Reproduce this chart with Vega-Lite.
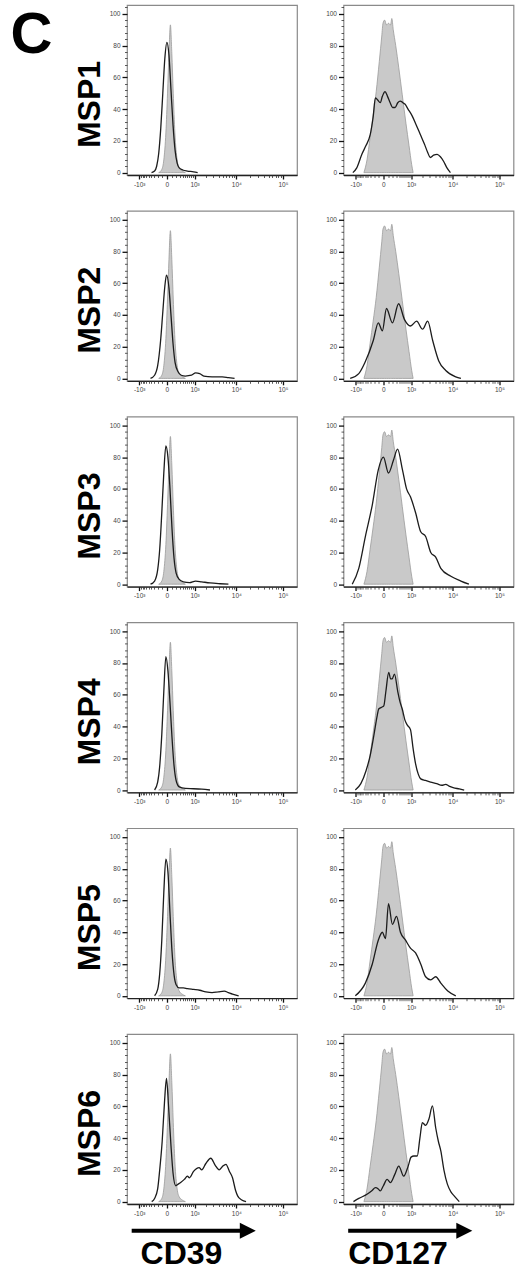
{
  "$schema": "https://vega.github.io/schema/vega-lite/v6.json",
  "background": "white",
  "padding": {"left": 10, "top": 4, "right": 0, "bottom": 0},
  "title": {"text": "C", "anchor": "start", "frame": "bounds", "fontSize": 58, "fontWeight": "bold", "font": "Liberation Sans", "color": "#000", "offset": -107, "baseline": "alphabetic", "dx": -62},
  "datasets": {
    "ctrl": [
      {"m": "CD39", "x": -172, "y": 0}, {"m": "CD39", "x": -99, "y": 2}, {"m": "CD39", "x": -57, "y": 8}, {"m": "CD39", "x": -18, "y": 25},
      {"m": "CD39", "x": 10.7, "y": 50}, {"m": "CD39", "x": 37, "y": 75}, {"m": "CD39", "x": 65, "y": 93}, {"m": "CD39", "x": 95, "y": 75},
      {"m": "CD39", "x": 127, "y": 50}, {"m": "CD39", "x": 167, "y": 25}, {"m": "CD39", "x": 227, "y": 8}, {"m": "CD39", "x": 288, "y": 3},
      {"m": "CD39", "x": 391, "y": 1}, {"m": "CD39", "x": 511, "y": 0},
      {"m": "CD127", "x": -555, "y": 0}, {"m": "CD127", "x": -429, "y": 8}, {"m": "CD127", "x": -320, "y": 22}, {"m": "CD127", "x": -227, "y": 36},
      {"m": "CD127", "x": -147, "y": 51}, {"m": "CD127", "x": -77.5, "y": 70}, {"m": "CD127", "x": -29, "y": 86}, {"m": "CD127", "x": -7, "y": 94},
      {"m": "CD127", "x": 21.6, "y": 96}, {"m": "CD127", "x": 56.6, "y": 93}, {"m": "CD127", "x": 99.4, "y": 94}, {"m": "CD127", "x": 146.7, "y": 93},
      {"m": "CD127", "x": 177.4, "y": 97}, {"m": "CD127", "x": 215.6, "y": 90}, {"m": "CD127", "x": 288, "y": 80}, {"m": "CD127", "x": 391, "y": 66},
      {"m": "CD127", "x": 528, "y": 49}, {"m": "CD127", "x": 701.5, "y": 31}, {"m": "CD127", "x": 871.6, "y": 17}, {"m": "CD127", "x": 1041, "y": 5},
      {"m": "CD127", "x": 1142, "y": 0}
    ],
    "smp": [
      {"s": "MSP1", "m": "CD39", "x": -391, "y": 0}, {"s": "MSP1", "m": "CD39", "x": -288, "y": 1}, {"s": "MSP1", "m": "CD39", "x": -227, "y": 4},
      {"s": "MSP1", "m": "CD39", "x": -172, "y": 12}, {"s": "MSP1", "m": "CD39", "x": -122, "y": 28}, {"s": "MSP1", "m": "CD39", "x": -77.5, "y": 50},
      {"s": "MSP1", "m": "CD39", "x": -36.8, "y": 72}, {"s": "MSP1", "m": "CD39", "x": 0, "y": 82}, {"s": "MSP1", "m": "CD39", "x": 36.8, "y": 74},
      {"s": "MSP1", "m": "CD39", "x": 77.5, "y": 52}, {"s": "MSP1", "m": "CD39", "x": 122, "y": 30}, {"s": "MSP1", "m": "CD39", "x": 172, "y": 14},
      {"s": "MSP1", "m": "CD39", "x": 227, "y": 6}, {"s": "MSP1", "m": "CD39", "x": 288, "y": 3}, {"s": "MSP1", "m": "CD39", "x": 429, "y": 1.5},
      {"s": "MSP1", "m": "CD39", "x": 601, "y": 1}, {"s": "MSP1", "m": "CD39", "x": 934, "y": 0.5}, {"s": "MSP1", "m": "CD39", "x": 1219, "y": 0},

      {"s": "MSP2", "m": "CD39", "x": -429, "y": 0}, {"s": "MSP2", "m": "CD39", "x": -288, "y": 2}, {"s": "MSP2", "m": "CD39", "x": -199, "y": 8},
      {"s": "MSP2", "m": "CD39", "x": -122, "y": 25}, {"s": "MSP2", "m": "CD39", "x": -77, "y": 42}, {"s": "MSP2", "m": "CD39", "x": -37, "y": 58},
      {"s": "MSP2", "m": "CD39", "x": -7, "y": 65}, {"s": "MSP2", "m": "CD39", "x": 37, "y": 57}, {"s": "MSP2", "m": "CD39", "x": 77, "y": 40},
      {"s": "MSP2", "m": "CD39", "x": 122, "y": 22}, {"s": "MSP2", "m": "CD39", "x": 172, "y": 10}, {"s": "MSP2", "m": "CD39", "x": 257, "y": 4},
      {"s": "MSP2", "m": "CD39", "x": 355, "y": 2}, {"s": "MSP2", "m": "CD39", "x": 511, "y": 1.5}, {"s": "MSP2", "m": "CD39", "x": 812, "y": 2},
      {"s": "MSP2", "m": "CD39", "x": 1069, "y": 3.5}, {"s": "MSP2", "m": "CD39", "x": 1384, "y": 3}, {"s": "MSP2", "m": "CD39", "x": 1767, "y": 1.5},
      {"s": "MSP2", "m": "CD39", "x": 2809, "y": 1}, {"s": "MSP2", "m": "CD39", "x": 4858, "y": 1}, {"s": "MSP2", "m": "CD39", "x": 6680, "y": 0.5},
      {"s": "MSP2", "m": "CD39", "x": 9140, "y": 0},

      {"s": "MSP3", "m": "CD39", "x": -429, "y": 0}, {"s": "MSP3", "m": "CD39", "x": -288, "y": 2}, {"s": "MSP3", "m": "CD39", "x": -199, "y": 9},
      {"s": "MSP3", "m": "CD39", "x": -147, "y": 22}, {"s": "MSP3", "m": "CD39", "x": -99, "y": 45}, {"s": "MSP3", "m": "CD39", "x": -57, "y": 70},
      {"s": "MSP3", "m": "CD39", "x": -18, "y": 87}, {"s": "MSP3", "m": "CD39", "x": 18, "y": 80}, {"s": "MSP3", "m": "CD39", "x": 57, "y": 60},
      {"s": "MSP3", "m": "CD39", "x": 99, "y": 35}, {"s": "MSP3", "m": "CD39", "x": 147, "y": 16}, {"s": "MSP3", "m": "CD39", "x": 199, "y": 7},
      {"s": "MSP3", "m": "CD39", "x": 288, "y": 3}, {"s": "MSP3", "m": "CD39", "x": 429, "y": 1.5}, {"s": "MSP3", "m": "CD39", "x": 702, "y": 1},
      {"s": "MSP3", "m": "CD39", "x": 1069, "y": 2}, {"s": "MSP3", "m": "CD39", "x": 1566, "y": 1.5}, {"s": "MSP3", "m": "CD39", "x": 2508, "y": 0.8},
      {"s": "MSP3", "m": "CD39", "x": 4362, "y": 0.3}, {"s": "MSP3", "m": "CD39", "x": 6680, "y": 0},

      {"s": "MSP4", "m": "CD39", "x": -288, "y": 0}, {"s": "MSP4", "m": "CD39", "x": -199, "y": 5}, {"s": "MSP4", "m": "CD39", "x": -147, "y": 15},
      {"s": "MSP4", "m": "CD39", "x": -99, "y": 35}, {"s": "MSP4", "m": "CD39", "x": -57, "y": 62}, {"s": "MSP4", "m": "CD39", "x": -18, "y": 84},
      {"s": "MSP4", "m": "CD39", "x": 18, "y": 75}, {"s": "MSP4", "m": "CD39", "x": 57, "y": 55}, {"s": "MSP4", "m": "CD39", "x": 99, "y": 33},
      {"s": "MSP4", "m": "CD39", "x": 147, "y": 15}, {"s": "MSP4", "m": "CD39", "x": 199, "y": 6}, {"s": "MSP4", "m": "CD39", "x": 288, "y": 2},
      {"s": "MSP4", "m": "CD39", "x": 511, "y": 1}, {"s": "MSP4", "m": "CD39", "x": 934, "y": 0.8}, {"s": "MSP4", "m": "CD39", "x": 1566, "y": 0.5},
      {"s": "MSP4", "m": "CD39", "x": 2508, "y": 0},

      {"s": "MSP5", "m": "CD39", "x": -288, "y": 0}, {"s": "MSP5", "m": "CD39", "x": -199, "y": 4}, {"s": "MSP5", "m": "CD39", "x": -147, "y": 14},
      {"s": "MSP5", "m": "CD39", "x": -99, "y": 35}, {"s": "MSP5", "m": "CD39", "x": -57, "y": 65}, {"s": "MSP5", "m": "CD39", "x": -18, "y": 86},
      {"s": "MSP5", "m": "CD39", "x": 18, "y": 78}, {"s": "MSP5", "m": "CD39", "x": 57, "y": 52}, {"s": "MSP5", "m": "CD39", "x": 99, "y": 28},
      {"s": "MSP5", "m": "CD39", "x": 147, "y": 13}, {"s": "MSP5", "m": "CD39", "x": 199, "y": 7}, {"s": "MSP5", "m": "CD39", "x": 288, "y": 5},
      {"s": "MSP5", "m": "CD39", "x": 429, "y": 5}, {"s": "MSP5", "m": "CD39", "x": 601, "y": 4.5}, {"s": "MSP5", "m": "CD39", "x": 934, "y": 4},
      {"s": "MSP5", "m": "CD39", "x": 1384, "y": 3.5}, {"s": "MSP5", "m": "CD39", "x": 1990, "y": 2.5}, {"s": "MSP5", "m": "CD39", "x": 2809, "y": 2},
      {"s": "MSP5", "m": "CD39", "x": 3914, "y": 2.5}, {"s": "MSP5", "m": "CD39", "x": 5406, "y": 3}, {"s": "MSP5", "m": "CD39", "x": 6680, "y": 2},
      {"s": "MSP5", "m": "CD39", "x": 8237, "y": 1}, {"s": "MSP5", "m": "CD39", "x": 11240, "y": 0},

      {"s": "MSP6", "m": "CD39", "x": -384, "y": 0}, {"s": "MSP6", "m": "CD39", "x": -288, "y": 2}, {"s": "MSP6", "m": "CD39", "x": -199, "y": 8},
      {"s": "MSP6", "m": "CD39", "x": -147, "y": 20}, {"s": "MSP6", "m": "CD39", "x": -90.5, "y": 38}, {"s": "MSP6", "m": "CD39", "x": -44.6, "y": 62},
      {"s": "MSP6", "m": "CD39", "x": -7.1, "y": 77.5}, {"s": "MSP6", "m": "CD39", "x": 29.2, "y": 60}, {"s": "MSP6", "m": "CD39", "x": 77.5, "y": 35},
      {"s": "MSP6", "m": "CD39", "x": 122, "y": 18}, {"s": "MSP6", "m": "CD39", "x": 188, "y": 10}, {"s": "MSP6", "m": "CD39", "x": 257, "y": 11},
      {"s": "MSP6", "m": "CD39", "x": 334, "y": 12}, {"s": "MSP6", "m": "CD39", "x": 469, "y": 14}, {"s": "MSP6", "m": "CD39", "x": 601, "y": 16},
      {"s": "MSP6", "m": "CD39", "x": 702, "y": 15}, {"s": "MSP6", "m": "CD39", "x": 934, "y": 19}, {"s": "MSP6", "m": "CD39", "x": 1332, "y": 21.4},
      {"s": "MSP6", "m": "CD39", "x": 1566, "y": 20}, {"s": "MSP6", "m": "CD39", "x": 1990, "y": 24}, {"s": "MSP6", "m": "CD39", "x": 2625, "y": 27.3},
      {"s": "MSP6", "m": "CD39", "x": 3320, "y": 23}, {"s": "MSP6", "m": "CD39", "x": 4132, "y": 20}, {"s": "MSP6", "m": "CD39", "x": 4858, "y": 22},
      {"s": "MSP6", "m": "CD39", "x": 5885, "y": 23.5}, {"s": "MSP6", "m": "CD39", "x": 7040, "y": 19}, {"s": "MSP6", "m": "CD39", "x": 8237, "y": 15},
      {"s": "MSP6", "m": "CD39", "x": 9626, "y": 7}, {"s": "MSP6", "m": "CD39", "x": 10675, "y": 3.6}, {"s": "MSP6", "m": "CD39", "x": 13116, "y": 1},
      {"s": "MSP6", "m": "CD39", "x": 16263, "y": 0},

      {"s": "MSP1", "m": "CD127", "x": -1203, "y": 0}, {"s": "MSP1", "m": "CD127", "x": -934, "y": 3}, {"s": "MSP1", "m": "CD127", "x": -650, "y": 11.6},
      {"s": "MSP1", "m": "CD127", "x": -469, "y": 17}, {"s": "MSP1", "m": "CD127", "x": -314, "y": 24}, {"s": "MSP1", "m": "CD127", "x": -227, "y": 35},
      {"s": "MSP1", "m": "CD127", "x": -167, "y": 47}, {"s": "MSP1", "m": "CD127", "x": -122, "y": 46}, {"s": "MSP1", "m": "CD127", "x": -57, "y": 44},
      {"s": "MSP1", "m": "CD127", "x": -18, "y": 48}, {"s": "MSP1", "m": "CD127", "x": 29, "y": 51}, {"s": "MSP1", "m": "CD127", "x": 77.5, "y": 48},
      {"s": "MSP1", "m": "CD127", "x": 137, "y": 44}, {"s": "MSP1", "m": "CD127", "x": 199, "y": 41}, {"s": "MSP1", "m": "CD127", "x": 269, "y": 41},
      {"s": "MSP1", "m": "CD127", "x": 355, "y": 44}, {"s": "MSP1", "m": "CD127", "x": 445, "y": 45}, {"s": "MSP1", "m": "CD127", "x": 555, "y": 44},
      {"s": "MSP1", "m": "CD127", "x": 660, "y": 43}, {"s": "MSP1", "m": "CD127", "x": 812, "y": 40}, {"s": "MSP1", "m": "CD127", "x": 1055, "y": 36},
      {"s": "MSP1", "m": "CD127", "x": 1384, "y": 30}, {"s": "MSP1", "m": "CD127", "x": 1767, "y": 24}, {"s": "MSP1", "m": "CD127", "x": 2236, "y": 18},
      {"s": "MSP1", "m": "CD127", "x": 2655, "y": 13}, {"s": "MSP1", "m": "CD127", "x": 3106, "y": 9.5}, {"s": "MSP1", "m": "CD127", "x": 3706, "y": 11},
      {"s": "MSP1", "m": "CD127", "x": 4458, "y": 11.5}, {"s": "MSP1", "m": "CD127", "x": 5292, "y": 10}, {"s": "MSP1", "m": "CD127", "x": 6271, "y": 7},
      {"s": "MSP1", "m": "CD127", "x": 7419, "y": 3}, {"s": "MSP1", "m": "CD127", "x": 8859, "y": 0},

      {"s": "MSP2", "m": "CD127", "x": -1419, "y": 0}, {"s": "MSP2", "m": "CD127", "x": -812, "y": 3}, {"s": "MSP2", "m": "CD127", "x": -511, "y": 10},
      {"s": "MSP2", "m": "CD127", "x": -221, "y": 24}, {"s": "MSP2", "m": "CD127", "x": -99, "y": 35}, {"s": "MSP2", "m": "CD127", "x": -18, "y": 30},
      {"s": "MSP2", "m": "CD127", "x": 57, "y": 44}, {"s": "MSP2", "m": "CD127", "x": 193, "y": 35}, {"s": "MSP2", "m": "CD127", "x": 384, "y": 47},
      {"s": "MSP2", "m": "CD127", "x": 630, "y": 37}, {"s": "MSP2", "m": "CD127", "x": 960, "y": 33}, {"s": "MSP2", "m": "CD127", "x": 1419, "y": 36},
      {"s": "MSP2", "m": "CD127", "x": 2014, "y": 31}, {"s": "MSP2", "m": "CD127", "x": 2685, "y": 36}, {"s": "MSP2", "m": "CD127", "x": 3508, "y": 24},
      {"s": "MSP2", "m": "CD127", "x": 4858, "y": 11}, {"s": "MSP2", "m": "CD127", "x": 6967, "y": 5}, {"s": "MSP2", "m": "CD127", "x": 11593, "y": 1},
      {"s": "MSP2", "m": "CD127", "x": 14986, "y": 0},

      {"s": "MSP3", "m": "CD127", "x": -1250, "y": 0}, {"s": "MSP3", "m": "CD127", "x": -812, "y": 10}, {"s": "MSP3", "m": "CD127", "x": -494, "y": 30},
      {"s": "MSP3", "m": "CD127", "x": -251, "y": 50}, {"s": "MSP3", "m": "CD127", "x": -99, "y": 72}, {"s": "MSP3", "m": "CD127", "x": 0, "y": 80},
      {"s": "MSP3", "m": "CD127", "x": 99, "y": 70}, {"s": "MSP3", "m": "CD127", "x": 221, "y": 78}, {"s": "MSP3", "m": "CD127", "x": 348, "y": 85},
      {"s": "MSP3", "m": "CD127", "x": 537, "y": 72}, {"s": "MSP3", "m": "CD127", "x": 733, "y": 60}, {"s": "MSP3", "m": "CD127", "x": 960, "y": 55},
      {"s": "MSP3", "m": "CD127", "x": 1332, "y": 45}, {"s": "MSP3", "m": "CD127", "x": 1810, "y": 33}, {"s": "MSP3", "m": "CD127", "x": 2396, "y": 30},
      {"s": "MSP3", "m": "CD127", "x": 3176, "y": 20}, {"s": "MSP3", "m": "CD127", "x": 4132, "y": 17}, {"s": "MSP3", "m": "CD127", "x": 5406, "y": 10},
      {"s": "MSP3", "m": "CD127", "x": 9045, "y": 5}, {"s": "MSP3", "m": "CD127", "x": 14986, "y": 2}, {"s": "MSP3", "m": "CD127", "x": 22300, "y": 0},

      {"s": "MSP4", "m": "CD127", "x": -1027, "y": 0}, {"s": "MSP4", "m": "CD127", "x": -702, "y": 4}, {"s": "MSP4", "m": "CD127", "x": -469, "y": 12},
      {"s": "MSP4", "m": "CD127", "x": -314, "y": 22}, {"s": "MSP4", "m": "CD127", "x": -210, "y": 34}, {"s": "MSP4", "m": "CD127", "x": -122, "y": 47},
      {"s": "MSP4", "m": "CD127", "x": -90.5, "y": 51}, {"s": "MSP4", "m": "CD127", "x": -37, "y": 52}, {"s": "MSP4", "m": "CD127", "x": 7, "y": 53},
      {"s": "MSP4", "m": "CD127", "x": 44.6, "y": 62}, {"s": "MSP4", "m": "CD127", "x": 104, "y": 74}, {"s": "MSP4", "m": "CD127", "x": 147, "y": 70},
      {"s": "MSP4", "m": "CD127", "x": 188, "y": 70}, {"s": "MSP4", "m": "CD127", "x": 251, "y": 73}, {"s": "MSP4", "m": "CD127", "x": 355, "y": 62},
      {"s": "MSP4", "m": "CD127", "x": 445, "y": 55}, {"s": "MSP4", "m": "CD127", "x": 528, "y": 51}, {"s": "MSP4", "m": "CD127", "x": 650, "y": 44},
      {"s": "MSP4", "m": "CD127", "x": 766, "y": 41}, {"s": "MSP4", "m": "CD127", "x": 960, "y": 38}, {"s": "MSP4", "m": "CD127", "x": 1142, "y": 26},
      {"s": "MSP4", "m": "CD127", "x": 1332, "y": 16.5}, {"s": "MSP4", "m": "CD127", "x": 1566, "y": 10}, {"s": "MSP4", "m": "CD127", "x": 1810, "y": 7},
      {"s": "MSP4", "m": "CD127", "x": 2369, "y": 6}, {"s": "MSP4", "m": "CD127", "x": 3141, "y": 5}, {"s": "MSP4", "m": "CD127", "x": 4362, "y": 4},
      {"s": "MSP4", "m": "CD127", "x": 5701, "y": 3}, {"s": "MSP4", "m": "CD127", "x": 6967, "y": 3.6}, {"s": "MSP4", "m": "CD127", "x": 8237, "y": 2.5},
      {"s": "MSP4", "m": "CD127", "x": 10137, "y": 1.5}, {"s": "MSP4", "m": "CD127", "x": 13806, "y": 0.7}, {"s": "MSP4", "m": "CD127", "x": 17647, "y": 0},

      {"s": "MSP5", "m": "CD127", "x": -1027, "y": 0}, {"s": "MSP5", "m": "CD127", "x": -494, "y": 8}, {"s": "MSP5", "m": "CD127", "x": -251, "y": 20},
      {"s": "MSP5", "m": "CD127", "x": -99, "y": 35}, {"s": "MSP5", "m": "CD127", "x": -18, "y": 40}, {"s": "MSP5", "m": "CD127", "x": 37, "y": 36},
      {"s": "MSP5", "m": "CD127", "x": 99, "y": 58}, {"s": "MSP5", "m": "CD127", "x": 193, "y": 45}, {"s": "MSP5", "m": "CD127", "x": 314, "y": 50},
      {"s": "MSP5", "m": "CD127", "x": 453, "y": 40}, {"s": "MSP5", "m": "CD127", "x": 681, "y": 35}, {"s": "MSP5", "m": "CD127", "x": 960, "y": 30},
      {"s": "MSP5", "m": "CD127", "x": 1332, "y": 27}, {"s": "MSP5", "m": "CD127", "x": 1810, "y": 20}, {"s": "MSP5", "m": "CD127", "x": 2396, "y": 12},
      {"s": "MSP5", "m": "CD127", "x": 3176, "y": 10}, {"s": "MSP5", "m": "CD127", "x": 4132, "y": 12}, {"s": "MSP5", "m": "CD127", "x": 5406, "y": 8},
      {"s": "MSP5", "m": "CD127", "x": 7736, "y": 3}, {"s": "MSP5", "m": "CD127", "x": 11593, "y": 0},

      {"s": "MSP6", "m": "CD127", "x": -1157, "y": 0}, {"s": "MSP6", "m": "CD127", "x": -812, "y": 2}, {"s": "MSP6", "m": "CD127", "x": -429, "y": 4.6},
      {"s": "MSP6", "m": "CD127", "x": -257, "y": 7}, {"s": "MSP6", "m": "CD127", "x": -167, "y": 8.8}, {"s": "MSP6", "m": "CD127", "x": -99, "y": 8},
      {"s": "MSP6", "m": "CD127", "x": -57, "y": 6.7}, {"s": "MSP6", "m": "CD127", "x": 0, "y": 10}, {"s": "MSP6", "m": "CD127", "x": 69, "y": 14},
      {"s": "MSP6", "m": "CD127", "x": 142, "y": 12}, {"s": "MSP6", "m": "CD127", "x": 257, "y": 17}, {"s": "MSP6", "m": "CD127", "x": 391, "y": 22.4},
      {"s": "MSP6", "m": "CD127", "x": 592, "y": 16}, {"s": "MSP6", "m": "CD127", "x": 812, "y": 22}, {"s": "MSP6", "m": "CD127", "x": 1000, "y": 28},
      {"s": "MSP6", "m": "CD127", "x": 1203, "y": 28.7}, {"s": "MSP6", "m": "CD127", "x": 1472, "y": 28.7}, {"s": "MSP6", "m": "CD127", "x": 1725, "y": 40},
      {"s": "MSP6", "m": "CD127", "x": 1990, "y": 49.7}, {"s": "MSP6", "m": "CD127", "x": 2396, "y": 48}, {"s": "MSP6", "m": "CD127", "x": 2873, "y": 52},
      {"s": "MSP6", "m": "CD127", "x": 3470, "y": 60.2}, {"s": "MSP6", "m": "CD127", "x": 4132, "y": 46.5}, {"s": "MSP6", "m": "CD127", "x": 4755, "y": 38},
      {"s": "MSP6", "m": "CD127", "x": 5406, "y": 31.9}, {"s": "MSP6", "m": "CD127", "x": 6337, "y": 20}, {"s": "MSP6", "m": "CD127", "x": 7576, "y": 11},
      {"s": "MSP6", "m": "CD127", "x": 9140, "y": 6}, {"s": "MSP6", "m": "CD127", "x": 10675, "y": 3.6}, {"s": "MSP6", "m": "CD127", "x": 13806, "y": 0}
    ]
  },
  "spacing": 20.8,
  "vconcat": [
    {"spacing": 26.5, "hconcat": [
      {"width": 170, "height": 170, "resolve": {"axis": {"x": "independent", "y": "independent"}}, "layer": [
        {"data": {"name": "ctrl"}, "transform": [{"filter": "datum.m == 'CD39'"}], "mark": {"type": "area", "color": "#c9c9c9", "stroke": "#9a9a9a", "strokeWidth": 0.8, "interpolate": "monotone"},
         "encoding": {"x": {"field": "x", "type": "quantitative", "scale": {"type": "symlog", "constant": 350, "domain": [-2100, 199000], "nice": false, "zero": false}, "axis": {"orient": "bottom", "values": [-1000, 0, 1000, 10000, 100000], "labelExpr": "datum.value === 0 ? '0' : datum.value === -1000 ? '-10³' : datum.value === 1000 ? '10³' : datum.value === 10000 ? '10⁴' : '10⁵'", "title": null, "tickSize": 4, "tickWidth": 1.3, "tickColor": "#111", "domainColor": "#222", "domainWidth": 1.3, "labelFontSize": 6.5, "labelColor": "#444", "labelPadding": 2, "labelFlush": false, "labelOverlap": false, "grid": false}},
                      "y": {"field": "y", "type": "quantitative", "scale": {"domain": [-1.5, 105.5], "nice": false, "zero": false}, "axis": {"orient": "left", "values": [0, 20, 40, 60, 80, 100], "title": "MSP1", "titleFontSize": 32, "titleFontWeight": "bold", "titleColor": "#000", "titleX": -28, "titleY": 99, "titleAngle": 270, "titleAlign": "center", "titleBaseline": "alphabetic", "tickSize": 5, "tickWidth": 1.3, "tickColor": "#111", "domain": false, "labelFontSize": 6.5, "labelColor": "#444", "labelPadding": 2, "grid": false}}}},
        {"data": {"name": "smp"}, "transform": [{"filter": "datum.m == 'CD39' && datum.s == 'MSP1'"}], "mark": {"type": "line", "color": "#1c1c1c", "strokeWidth": 1.3, "interpolate": "monotone"},
         "encoding": {"x": {"field": "x", "type": "quantitative", "axis": {"orient": "bottom", "values": [-900, -800, -700, -600, -500, -400, -300, -200, -100, 100, 200, 300, 400, 500, 600, 700, 800, 900, 2000, 3000, 4000, 5000, 6000, 7000, 8000, 9000, 20000, 30000, 40000, 50000, 60000, 70000, 80000, 90000], "labels": false, "title": null, "tickSize": 2.5, "tickWidth": 0.8, "tickColor": "#333", "domain": false, "grid": false}},
                      "y": {"field": "y", "type": "quantitative", "axis": {"orient": "left", "values": [4, 8, 12, 16, 24, 28, 32, 36, 44, 48, 52, 56, 64, 68, 72, 76, 84, 88, 92, 96, 104], "labels": false, "title": null, "tickSize": 2.5, "tickWidth": 0.8, "tickColor": "#333", "domain": false, "grid": false}}}}
      ]},
      {"width": 170, "height": 170, "resolve": {"axis": {"x": "independent", "y": "independent"}}, "layer": [
        {"data": {"name": "ctrl"}, "transform": [{"filter": "datum.m == 'CD127'"}], "mark": {"type": "area", "color": "#c9c9c9", "stroke": "#9a9a9a", "strokeWidth": 0.8, "interpolate": "monotone"},
         "encoding": {"x": {"field": "x", "type": "quantitative", "scale": {"type": "symlog", "constant": 350, "domain": [-2100, 199000], "nice": false, "zero": false}, "axis": {"orient": "bottom", "values": [-1000, 0, 1000, 10000, 100000], "labelExpr": "datum.value === 0 ? '0' : datum.value === -1000 ? '-10³' : datum.value === 1000 ? '10³' : datum.value === 10000 ? '10⁴' : '10⁵'", "title": null, "tickSize": 4, "tickWidth": 1.3, "tickColor": "#111", "domainColor": "#222", "domainWidth": 1.3, "labelFontSize": 6.5, "labelColor": "#444", "labelPadding": 2, "labelFlush": false, "labelOverlap": false, "grid": false}},
                      "y": {"field": "y", "type": "quantitative", "scale": {"domain": [-1.5, 105.5], "nice": false, "zero": false}, "axis": {"orient": "left", "values": [0, 20, 40, 60, 80, 100], "title": null, "tickSize": 5, "tickWidth": 1.3, "tickColor": "#111", "domain": false, "labelFontSize": 6.5, "labelColor": "#444", "labelPadding": 2, "grid": false}}}},
        {"data": {"name": "smp"}, "transform": [{"filter": "datum.m == 'CD127' && datum.s == 'MSP1'"}], "mark": {"type": "line", "color": "#1c1c1c", "strokeWidth": 1.3, "interpolate": "monotone"},
         "encoding": {"x": {"field": "x", "type": "quantitative", "axis": {"orient": "bottom", "values": [-900, -800, -700, -600, -500, -400, -300, -200, -100, 100, 200, 300, 400, 500, 600, 700, 800, 900, 2000, 3000, 4000, 5000, 6000, 7000, 8000, 9000, 20000, 30000, 40000, 50000, 60000, 70000, 80000, 90000], "labels": false, "title": null, "tickSize": 2.5, "tickWidth": 0.8, "tickColor": "#333", "domain": false, "grid": false}},
                      "y": {"field": "y", "type": "quantitative", "axis": {"orient": "left", "values": [4, 8, 12, 16, 24, 28, 32, 36, 44, 48, 52, 56, 64, 68, 72, 76, 84, 88, 92, 96, 104], "labels": false, "title": null, "tickSize": 2.5, "tickWidth": 0.8, "tickColor": "#333", "domain": false, "grid": false}}}}
      ]}
    ]},
    {"spacing": 26.5, "hconcat": [
      {"width": 170, "height": 170, "resolve": {"axis": {"x": "independent", "y": "independent"}}, "layer": [
        {"data": {"name": "ctrl"}, "transform": [{"filter": "datum.m == 'CD39'"}], "mark": {"type": "area", "color": "#c9c9c9", "stroke": "#9a9a9a", "strokeWidth": 0.8, "interpolate": "monotone"},
         "encoding": {"x": {"field": "x", "type": "quantitative", "scale": {"type": "symlog", "constant": 350, "domain": [-2100, 199000], "nice": false, "zero": false}, "axis": {"orient": "bottom", "values": [-1000, 0, 1000, 10000, 100000], "labelExpr": "datum.value === 0 ? '0' : datum.value === -1000 ? '-10³' : datum.value === 1000 ? '10³' : datum.value === 10000 ? '10⁴' : '10⁵'", "title": null, "tickSize": 4, "tickWidth": 1.3, "tickColor": "#111", "domainColor": "#222", "domainWidth": 1.3, "labelFontSize": 6.5, "labelColor": "#444", "labelPadding": 2, "labelFlush": false, "labelOverlap": false, "grid": false}},
                      "y": {"field": "y", "type": "quantitative", "scale": {"domain": [-1.5, 105.5], "nice": false, "zero": false}, "axis": {"orient": "left", "values": [0, 20, 40, 60, 80, 100], "title": "MSP2", "titleFontSize": 32, "titleFontWeight": "bold", "titleColor": "#000", "titleX": -28, "titleY": 99, "titleAngle": 270, "titleAlign": "center", "titleBaseline": "alphabetic", "tickSize": 5, "tickWidth": 1.3, "tickColor": "#111", "domain": false, "labelFontSize": 6.5, "labelColor": "#444", "labelPadding": 2, "grid": false}}}},
        {"data": {"name": "smp"}, "transform": [{"filter": "datum.m == 'CD39' && datum.s == 'MSP2'"}], "mark": {"type": "line", "color": "#1c1c1c", "strokeWidth": 1.3, "interpolate": "monotone"},
         "encoding": {"x": {"field": "x", "type": "quantitative", "axis": {"orient": "bottom", "values": [-900, -800, -700, -600, -500, -400, -300, -200, -100, 100, 200, 300, 400, 500, 600, 700, 800, 900, 2000, 3000, 4000, 5000, 6000, 7000, 8000, 9000, 20000, 30000, 40000, 50000, 60000, 70000, 80000, 90000], "labels": false, "title": null, "tickSize": 2.5, "tickWidth": 0.8, "tickColor": "#333", "domain": false, "grid": false}},
                      "y": {"field": "y", "type": "quantitative", "axis": {"orient": "left", "values": [4, 8, 12, 16, 24, 28, 32, 36, 44, 48, 52, 56, 64, 68, 72, 76, 84, 88, 92, 96, 104], "labels": false, "title": null, "tickSize": 2.5, "tickWidth": 0.8, "tickColor": "#333", "domain": false, "grid": false}}}}
      ]},
      {"width": 170, "height": 170, "resolve": {"axis": {"x": "independent", "y": "independent"}}, "layer": [
        {"data": {"name": "ctrl"}, "transform": [{"filter": "datum.m == 'CD127'"}], "mark": {"type": "area", "color": "#c9c9c9", "stroke": "#9a9a9a", "strokeWidth": 0.8, "interpolate": "monotone"},
         "encoding": {"x": {"field": "x", "type": "quantitative", "scale": {"type": "symlog", "constant": 350, "domain": [-2100, 199000], "nice": false, "zero": false}, "axis": {"orient": "bottom", "values": [-1000, 0, 1000, 10000, 100000], "labelExpr": "datum.value === 0 ? '0' : datum.value === -1000 ? '-10³' : datum.value === 1000 ? '10³' : datum.value === 10000 ? '10⁴' : '10⁵'", "title": null, "tickSize": 4, "tickWidth": 1.3, "tickColor": "#111", "domainColor": "#222", "domainWidth": 1.3, "labelFontSize": 6.5, "labelColor": "#444", "labelPadding": 2, "labelFlush": false, "labelOverlap": false, "grid": false}},
                      "y": {"field": "y", "type": "quantitative", "scale": {"domain": [-1.5, 105.5], "nice": false, "zero": false}, "axis": {"orient": "left", "values": [0, 20, 40, 60, 80, 100], "title": null, "tickSize": 5, "tickWidth": 1.3, "tickColor": "#111", "domain": false, "labelFontSize": 6.5, "labelColor": "#444", "labelPadding": 2, "grid": false}}}},
        {"data": {"name": "smp"}, "transform": [{"filter": "datum.m == 'CD127' && datum.s == 'MSP2'"}], "mark": {"type": "line", "color": "#1c1c1c", "strokeWidth": 1.3, "interpolate": "monotone"},
         "encoding": {"x": {"field": "x", "type": "quantitative", "axis": {"orient": "bottom", "values": [-900, -800, -700, -600, -500, -400, -300, -200, -100, 100, 200, 300, 400, 500, 600, 700, 800, 900, 2000, 3000, 4000, 5000, 6000, 7000, 8000, 9000, 20000, 30000, 40000, 50000, 60000, 70000, 80000, 90000], "labels": false, "title": null, "tickSize": 2.5, "tickWidth": 0.8, "tickColor": "#333", "domain": false, "grid": false}},
                      "y": {"field": "y", "type": "quantitative", "axis": {"orient": "left", "values": [4, 8, 12, 16, 24, 28, 32, 36, 44, 48, 52, 56, 64, 68, 72, 76, 84, 88, 92, 96, 104], "labels": false, "title": null, "tickSize": 2.5, "tickWidth": 0.8, "tickColor": "#333", "domain": false, "grid": false}}}}
      ]}
    ]},
    {"spacing": 26.5, "hconcat": [
      {"width": 170, "height": 170, "resolve": {"axis": {"x": "independent", "y": "independent"}}, "layer": [
        {"data": {"name": "ctrl"}, "transform": [{"filter": "datum.m == 'CD39'"}], "mark": {"type": "area", "color": "#c9c9c9", "stroke": "#9a9a9a", "strokeWidth": 0.8, "interpolate": "monotone"},
         "encoding": {"x": {"field": "x", "type": "quantitative", "scale": {"type": "symlog", "constant": 350, "domain": [-2100, 199000], "nice": false, "zero": false}, "axis": {"orient": "bottom", "values": [-1000, 0, 1000, 10000, 100000], "labelExpr": "datum.value === 0 ? '0' : datum.value === -1000 ? '-10³' : datum.value === 1000 ? '10³' : datum.value === 10000 ? '10⁴' : '10⁵'", "title": null, "tickSize": 4, "tickWidth": 1.3, "tickColor": "#111", "domainColor": "#222", "domainWidth": 1.3, "labelFontSize": 6.5, "labelColor": "#444", "labelPadding": 2, "labelFlush": false, "labelOverlap": false, "grid": false}},
                      "y": {"field": "y", "type": "quantitative", "scale": {"domain": [-1.5, 105.5], "nice": false, "zero": false}, "axis": {"orient": "left", "values": [0, 20, 40, 60, 80, 100], "title": "MSP3", "titleFontSize": 32, "titleFontWeight": "bold", "titleColor": "#000", "titleX": -28, "titleY": 99, "titleAngle": 270, "titleAlign": "center", "titleBaseline": "alphabetic", "tickSize": 5, "tickWidth": 1.3, "tickColor": "#111", "domain": false, "labelFontSize": 6.5, "labelColor": "#444", "labelPadding": 2, "grid": false}}}},
        {"data": {"name": "smp"}, "transform": [{"filter": "datum.m == 'CD39' && datum.s == 'MSP3'"}], "mark": {"type": "line", "color": "#1c1c1c", "strokeWidth": 1.3, "interpolate": "monotone"},
         "encoding": {"x": {"field": "x", "type": "quantitative", "axis": {"orient": "bottom", "values": [-900, -800, -700, -600, -500, -400, -300, -200, -100, 100, 200, 300, 400, 500, 600, 700, 800, 900, 2000, 3000, 4000, 5000, 6000, 7000, 8000, 9000, 20000, 30000, 40000, 50000, 60000, 70000, 80000, 90000], "labels": false, "title": null, "tickSize": 2.5, "tickWidth": 0.8, "tickColor": "#333", "domain": false, "grid": false}},
                      "y": {"field": "y", "type": "quantitative", "axis": {"orient": "left", "values": [4, 8, 12, 16, 24, 28, 32, 36, 44, 48, 52, 56, 64, 68, 72, 76, 84, 88, 92, 96, 104], "labels": false, "title": null, "tickSize": 2.5, "tickWidth": 0.8, "tickColor": "#333", "domain": false, "grid": false}}}}
      ]},
      {"width": 170, "height": 170, "resolve": {"axis": {"x": "independent", "y": "independent"}}, "layer": [
        {"data": {"name": "ctrl"}, "transform": [{"filter": "datum.m == 'CD127'"}], "mark": {"type": "area", "color": "#c9c9c9", "stroke": "#9a9a9a", "strokeWidth": 0.8, "interpolate": "monotone"},
         "encoding": {"x": {"field": "x", "type": "quantitative", "scale": {"type": "symlog", "constant": 350, "domain": [-2100, 199000], "nice": false, "zero": false}, "axis": {"orient": "bottom", "values": [-1000, 0, 1000, 10000, 100000], "labelExpr": "datum.value === 0 ? '0' : datum.value === -1000 ? '-10³' : datum.value === 1000 ? '10³' : datum.value === 10000 ? '10⁴' : '10⁵'", "title": null, "tickSize": 4, "tickWidth": 1.3, "tickColor": "#111", "domainColor": "#222", "domainWidth": 1.3, "labelFontSize": 6.5, "labelColor": "#444", "labelPadding": 2, "labelFlush": false, "labelOverlap": false, "grid": false}},
                      "y": {"field": "y", "type": "quantitative", "scale": {"domain": [-1.5, 105.5], "nice": false, "zero": false}, "axis": {"orient": "left", "values": [0, 20, 40, 60, 80, 100], "title": null, "tickSize": 5, "tickWidth": 1.3, "tickColor": "#111", "domain": false, "labelFontSize": 6.5, "labelColor": "#444", "labelPadding": 2, "grid": false}}}},
        {"data": {"name": "smp"}, "transform": [{"filter": "datum.m == 'CD127' && datum.s == 'MSP3'"}], "mark": {"type": "line", "color": "#1c1c1c", "strokeWidth": 1.3, "interpolate": "monotone"},
         "encoding": {"x": {"field": "x", "type": "quantitative", "axis": {"orient": "bottom", "values": [-900, -800, -700, -600, -500, -400, -300, -200, -100, 100, 200, 300, 400, 500, 600, 700, 800, 900, 2000, 3000, 4000, 5000, 6000, 7000, 8000, 9000, 20000, 30000, 40000, 50000, 60000, 70000, 80000, 90000], "labels": false, "title": null, "tickSize": 2.5, "tickWidth": 0.8, "tickColor": "#333", "domain": false, "grid": false}},
                      "y": {"field": "y", "type": "quantitative", "axis": {"orient": "left", "values": [4, 8, 12, 16, 24, 28, 32, 36, 44, 48, 52, 56, 64, 68, 72, 76, 84, 88, 92, 96, 104], "labels": false, "title": null, "tickSize": 2.5, "tickWidth": 0.8, "tickColor": "#333", "domain": false, "grid": false}}}}
      ]}
    ]},
    {"spacing": 26.5, "hconcat": [
      {"width": 170, "height": 170, "resolve": {"axis": {"x": "independent", "y": "independent"}}, "layer": [
        {"data": {"name": "ctrl"}, "transform": [{"filter": "datum.m == 'CD39'"}], "mark": {"type": "area", "color": "#c9c9c9", "stroke": "#9a9a9a", "strokeWidth": 0.8, "interpolate": "monotone"},
         "encoding": {"x": {"field": "x", "type": "quantitative", "scale": {"type": "symlog", "constant": 350, "domain": [-2100, 199000], "nice": false, "zero": false}, "axis": {"orient": "bottom", "values": [-1000, 0, 1000, 10000, 100000], "labelExpr": "datum.value === 0 ? '0' : datum.value === -1000 ? '-10³' : datum.value === 1000 ? '10³' : datum.value === 10000 ? '10⁴' : '10⁵'", "title": null, "tickSize": 4, "tickWidth": 1.3, "tickColor": "#111", "domainColor": "#222", "domainWidth": 1.3, "labelFontSize": 6.5, "labelColor": "#444", "labelPadding": 2, "labelFlush": false, "labelOverlap": false, "grid": false}},
                      "y": {"field": "y", "type": "quantitative", "scale": {"domain": [-1.5, 105.5], "nice": false, "zero": false}, "axis": {"orient": "left", "values": [0, 20, 40, 60, 80, 100], "title": "MSP4", "titleFontSize": 32, "titleFontWeight": "bold", "titleColor": "#000", "titleX": -28, "titleY": 99, "titleAngle": 270, "titleAlign": "center", "titleBaseline": "alphabetic", "tickSize": 5, "tickWidth": 1.3, "tickColor": "#111", "domain": false, "labelFontSize": 6.5, "labelColor": "#444", "labelPadding": 2, "grid": false}}}},
        {"data": {"name": "smp"}, "transform": [{"filter": "datum.m == 'CD39' && datum.s == 'MSP4'"}], "mark": {"type": "line", "color": "#1c1c1c", "strokeWidth": 1.3, "interpolate": "monotone"},
         "encoding": {"x": {"field": "x", "type": "quantitative", "axis": {"orient": "bottom", "values": [-900, -800, -700, -600, -500, -400, -300, -200, -100, 100, 200, 300, 400, 500, 600, 700, 800, 900, 2000, 3000, 4000, 5000, 6000, 7000, 8000, 9000, 20000, 30000, 40000, 50000, 60000, 70000, 80000, 90000], "labels": false, "title": null, "tickSize": 2.5, "tickWidth": 0.8, "tickColor": "#333", "domain": false, "grid": false}},
                      "y": {"field": "y", "type": "quantitative", "axis": {"orient": "left", "values": [4, 8, 12, 16, 24, 28, 32, 36, 44, 48, 52, 56, 64, 68, 72, 76, 84, 88, 92, 96, 104], "labels": false, "title": null, "tickSize": 2.5, "tickWidth": 0.8, "tickColor": "#333", "domain": false, "grid": false}}}}
      ]},
      {"width": 170, "height": 170, "resolve": {"axis": {"x": "independent", "y": "independent"}}, "layer": [
        {"data": {"name": "ctrl"}, "transform": [{"filter": "datum.m == 'CD127'"}], "mark": {"type": "area", "color": "#c9c9c9", "stroke": "#9a9a9a", "strokeWidth": 0.8, "interpolate": "monotone"},
         "encoding": {"x": {"field": "x", "type": "quantitative", "scale": {"type": "symlog", "constant": 350, "domain": [-2100, 199000], "nice": false, "zero": false}, "axis": {"orient": "bottom", "values": [-1000, 0, 1000, 10000, 100000], "labelExpr": "datum.value === 0 ? '0' : datum.value === -1000 ? '-10³' : datum.value === 1000 ? '10³' : datum.value === 10000 ? '10⁴' : '10⁵'", "title": null, "tickSize": 4, "tickWidth": 1.3, "tickColor": "#111", "domainColor": "#222", "domainWidth": 1.3, "labelFontSize": 6.5, "labelColor": "#444", "labelPadding": 2, "labelFlush": false, "labelOverlap": false, "grid": false}},
                      "y": {"field": "y", "type": "quantitative", "scale": {"domain": [-1.5, 105.5], "nice": false, "zero": false}, "axis": {"orient": "left", "values": [0, 20, 40, 60, 80, 100], "title": null, "tickSize": 5, "tickWidth": 1.3, "tickColor": "#111", "domain": false, "labelFontSize": 6.5, "labelColor": "#444", "labelPadding": 2, "grid": false}}}},
        {"data": {"name": "smp"}, "transform": [{"filter": "datum.m == 'CD127' && datum.s == 'MSP4'"}], "mark": {"type": "line", "color": "#1c1c1c", "strokeWidth": 1.3, "interpolate": "monotone"},
         "encoding": {"x": {"field": "x", "type": "quantitative", "axis": {"orient": "bottom", "values": [-900, -800, -700, -600, -500, -400, -300, -200, -100, 100, 200, 300, 400, 500, 600, 700, 800, 900, 2000, 3000, 4000, 5000, 6000, 7000, 8000, 9000, 20000, 30000, 40000, 50000, 60000, 70000, 80000, 90000], "labels": false, "title": null, "tickSize": 2.5, "tickWidth": 0.8, "tickColor": "#333", "domain": false, "grid": false}},
                      "y": {"field": "y", "type": "quantitative", "axis": {"orient": "left", "values": [4, 8, 12, 16, 24, 28, 32, 36, 44, 48, 52, 56, 64, 68, 72, 76, 84, 88, 92, 96, 104], "labels": false, "title": null, "tickSize": 2.5, "tickWidth": 0.8, "tickColor": "#333", "domain": false, "grid": false}}}}
      ]}
    ]},
    {"spacing": 26.5, "hconcat": [
      {"width": 170, "height": 170, "resolve": {"axis": {"x": "independent", "y": "independent"}}, "layer": [
        {"data": {"name": "ctrl"}, "transform": [{"filter": "datum.m == 'CD39'"}], "mark": {"type": "area", "color": "#c9c9c9", "stroke": "#9a9a9a", "strokeWidth": 0.8, "interpolate": "monotone"},
         "encoding": {"x": {"field": "x", "type": "quantitative", "scale": {"type": "symlog", "constant": 350, "domain": [-2100, 199000], "nice": false, "zero": false}, "axis": {"orient": "bottom", "values": [-1000, 0, 1000, 10000, 100000], "labelExpr": "datum.value === 0 ? '0' : datum.value === -1000 ? '-10³' : datum.value === 1000 ? '10³' : datum.value === 10000 ? '10⁴' : '10⁵'", "title": null, "tickSize": 4, "tickWidth": 1.3, "tickColor": "#111", "domainColor": "#222", "domainWidth": 1.3, "labelFontSize": 6.5, "labelColor": "#444", "labelPadding": 2, "labelFlush": false, "labelOverlap": false, "grid": false}},
                      "y": {"field": "y", "type": "quantitative", "scale": {"domain": [-1.5, 105.5], "nice": false, "zero": false}, "axis": {"orient": "left", "values": [0, 20, 40, 60, 80, 100], "title": "MSP5", "titleFontSize": 32, "titleFontWeight": "bold", "titleColor": "#000", "titleX": -28, "titleY": 99, "titleAngle": 270, "titleAlign": "center", "titleBaseline": "alphabetic", "tickSize": 5, "tickWidth": 1.3, "tickColor": "#111", "domain": false, "labelFontSize": 6.5, "labelColor": "#444", "labelPadding": 2, "grid": false}}}},
        {"data": {"name": "smp"}, "transform": [{"filter": "datum.m == 'CD39' && datum.s == 'MSP5'"}], "mark": {"type": "line", "color": "#1c1c1c", "strokeWidth": 1.3, "interpolate": "monotone"},
         "encoding": {"x": {"field": "x", "type": "quantitative", "axis": {"orient": "bottom", "values": [-900, -800, -700, -600, -500, -400, -300, -200, -100, 100, 200, 300, 400, 500, 600, 700, 800, 900, 2000, 3000, 4000, 5000, 6000, 7000, 8000, 9000, 20000, 30000, 40000, 50000, 60000, 70000, 80000, 90000], "labels": false, "title": null, "tickSize": 2.5, "tickWidth": 0.8, "tickColor": "#333", "domain": false, "grid": false}},
                      "y": {"field": "y", "type": "quantitative", "axis": {"orient": "left", "values": [4, 8, 12, 16, 24, 28, 32, 36, 44, 48, 52, 56, 64, 68, 72, 76, 84, 88, 92, 96, 104], "labels": false, "title": null, "tickSize": 2.5, "tickWidth": 0.8, "tickColor": "#333", "domain": false, "grid": false}}}}
      ]},
      {"width": 170, "height": 170, "resolve": {"axis": {"x": "independent", "y": "independent"}}, "layer": [
        {"data": {"name": "ctrl"}, "transform": [{"filter": "datum.m == 'CD127'"}], "mark": {"type": "area", "color": "#c9c9c9", "stroke": "#9a9a9a", "strokeWidth": 0.8, "interpolate": "monotone"},
         "encoding": {"x": {"field": "x", "type": "quantitative", "scale": {"type": "symlog", "constant": 350, "domain": [-2100, 199000], "nice": false, "zero": false}, "axis": {"orient": "bottom", "values": [-1000, 0, 1000, 10000, 100000], "labelExpr": "datum.value === 0 ? '0' : datum.value === -1000 ? '-10³' : datum.value === 1000 ? '10³' : datum.value === 10000 ? '10⁴' : '10⁵'", "title": null, "tickSize": 4, "tickWidth": 1.3, "tickColor": "#111", "domainColor": "#222", "domainWidth": 1.3, "labelFontSize": 6.5, "labelColor": "#444", "labelPadding": 2, "labelFlush": false, "labelOverlap": false, "grid": false}},
                      "y": {"field": "y", "type": "quantitative", "scale": {"domain": [-1.5, 105.5], "nice": false, "zero": false}, "axis": {"orient": "left", "values": [0, 20, 40, 60, 80, 100], "title": null, "tickSize": 5, "tickWidth": 1.3, "tickColor": "#111", "domain": false, "labelFontSize": 6.5, "labelColor": "#444", "labelPadding": 2, "grid": false}}}},
        {"data": {"name": "smp"}, "transform": [{"filter": "datum.m == 'CD127' && datum.s == 'MSP5'"}], "mark": {"type": "line", "color": "#1c1c1c", "strokeWidth": 1.3, "interpolate": "monotone"},
         "encoding": {"x": {"field": "x", "type": "quantitative", "axis": {"orient": "bottom", "values": [-900, -800, -700, -600, -500, -400, -300, -200, -100, 100, 200, 300, 400, 500, 600, 700, 800, 900, 2000, 3000, 4000, 5000, 6000, 7000, 8000, 9000, 20000, 30000, 40000, 50000, 60000, 70000, 80000, 90000], "labels": false, "title": null, "tickSize": 2.5, "tickWidth": 0.8, "tickColor": "#333", "domain": false, "grid": false}},
                      "y": {"field": "y", "type": "quantitative", "axis": {"orient": "left", "values": [4, 8, 12, 16, 24, 28, 32, 36, 44, 48, 52, 56, 64, 68, 72, 76, 84, 88, 92, 96, 104], "labels": false, "title": null, "tickSize": 2.5, "tickWidth": 0.8, "tickColor": "#333", "domain": false, "grid": false}}}}
      ]}
    ]},
    {"spacing": 26.5, "hconcat": [
      {"width": 170, "height": 170, "resolve": {"axis": {"x": "independent", "y": "independent"}}, "layer": [
        {"data": {"name": "ctrl"}, "transform": [{"filter": "datum.m == 'CD39'"}], "mark": {"type": "area", "color": "#c9c9c9", "stroke": "#9a9a9a", "strokeWidth": 0.8, "interpolate": "monotone"},
         "encoding": {"x": {"field": "x", "type": "quantitative", "scale": {"type": "symlog", "constant": 350, "domain": [-2100, 199000], "nice": false, "zero": false}, "axis": {"orient": "bottom", "values": [-1000, 0, 1000, 10000, 100000], "labelExpr": "datum.value === 0 ? '0' : datum.value === -1000 ? '-10³' : datum.value === 1000 ? '10³' : datum.value === 10000 ? '10⁴' : '10⁵'", "title": "CD39", "titleFontSize": 32, "titleFontWeight": "bold", "titleColor": "#000", "titleX": 54, "titleY": 59, "titleAlign": "center", "titleBaseline": "alphabetic", "tickSize": 4, "tickWidth": 1.3, "tickColor": "#111", "domainColor": "#222", "domainWidth": 1.3, "labelFontSize": 6.5, "labelColor": "#444", "labelPadding": 2, "labelFlush": false, "labelOverlap": false, "grid": false}},
                      "y": {"field": "y", "type": "quantitative", "scale": {"domain": [-1.5, 105.5], "nice": false, "zero": false}, "axis": {"orient": "left", "values": [0, 20, 40, 60, 80, 100], "title": "MSP6", "titleFontSize": 32, "titleFontWeight": "bold", "titleColor": "#000", "titleX": -28, "titleY": 99, "titleAngle": 270, "titleAlign": "center", "titleBaseline": "alphabetic", "tickSize": 5, "tickWidth": 1.3, "tickColor": "#111", "domain": false, "labelFontSize": 6.5, "labelColor": "#444", "labelPadding": 2, "grid": false}}}},
        {"data": {"name": "smp"}, "transform": [{"filter": "datum.m == 'CD39' && datum.s == 'MSP6'"}], "mark": {"type": "line", "color": "#1c1c1c", "strokeWidth": 1.3, "interpolate": "monotone"},
         "encoding": {"x": {"field": "x", "type": "quantitative", "axis": {"orient": "bottom", "values": [-900, -800, -700, -600, -500, -400, -300, -200, -100, 100, 200, 300, 400, 500, 600, 700, 800, 900, 2000, 3000, 4000, 5000, 6000, 7000, 8000, 9000, 20000, 30000, 40000, 50000, 60000, 70000, 80000, 90000], "labels": false, "title": null, "tickSize": 2.5, "tickWidth": 0.8, "tickColor": "#333", "domain": false, "grid": false}},
                      "y": {"field": "y", "type": "quantitative", "axis": {"orient": "left", "values": [4, 8, 12, 16, 24, 28, 32, 36, 44, 48, 52, 56, 64, 68, 72, 76, 84, 88, 92, 96, 104], "labels": false, "title": null, "tickSize": 2.5, "tickWidth": 0.8, "tickColor": "#333", "domain": false, "grid": false}}}},
        {"data": {"values": [{}]}, "mark": {"type": "rule", "color": "#000", "strokeWidth": 4, "clip": false},
         "encoding": {"x": {"datum": -1600, "type": "quantitative", "axis": null}, "x2": {"datum": 12850}, "y": {"datum": -18.4, "type": "quantitative", "axis": null}}},
        {"data": {"values": [{}]}, "mark": {"type": "point", "shape": "M-1,-1L1,0L-1,1Z", "size": 256, "filled": true, "color": "#000", "opacity": 1, "strokeWidth": 0, "clip": false},
         "encoding": {"x": {"datum": 17740, "type": "quantitative", "axis": null}, "y": {"datum": -18.4, "type": "quantitative", "axis": null}}}
      ]},
      {"width": 170, "height": 170, "resolve": {"axis": {"x": "independent", "y": "independent"}}, "layer": [
        {"data": {"name": "ctrl"}, "transform": [{"filter": "datum.m == 'CD127'"}], "mark": {"type": "area", "color": "#c9c9c9", "stroke": "#9a9a9a", "strokeWidth": 0.8, "interpolate": "monotone"},
         "encoding": {"x": {"field": "x", "type": "quantitative", "scale": {"type": "symlog", "constant": 350, "domain": [-2100, 199000], "nice": false, "zero": false}, "axis": {"orient": "bottom", "values": [-1000, 0, 1000, 10000, 100000], "labelExpr": "datum.value === 0 ? '0' : datum.value === -1000 ? '-10³' : datum.value === 1000 ? '10³' : datum.value === 10000 ? '10⁴' : '10⁵'", "title": "CD127", "titleFontSize": 32, "titleFontWeight": "bold", "titleColor": "#000", "titleX": 54, "titleY": 59, "titleAlign": "center", "titleBaseline": "alphabetic", "tickSize": 4, "tickWidth": 1.3, "tickColor": "#111", "domainColor": "#222", "domainWidth": 1.3, "labelFontSize": 6.5, "labelColor": "#444", "labelPadding": 2, "labelFlush": false, "labelOverlap": false, "grid": false}},
                      "y": {"field": "y", "type": "quantitative", "scale": {"domain": [-1.5, 105.5], "nice": false, "zero": false}, "axis": {"orient": "left", "values": [0, 20, 40, 60, 80, 100], "title": null, "tickSize": 5, "tickWidth": 1.3, "tickColor": "#111", "domain": false, "labelFontSize": 6.5, "labelColor": "#444", "labelPadding": 2, "grid": false}}}},
        {"data": {"name": "smp"}, "transform": [{"filter": "datum.m == 'CD127' && datum.s == 'MSP6'"}], "mark": {"type": "line", "color": "#1c1c1c", "strokeWidth": 1.3, "interpolate": "monotone"},
         "encoding": {"x": {"field": "x", "type": "quantitative", "axis": {"orient": "bottom", "values": [-900, -800, -700, -600, -500, -400, -300, -200, -100, 100, 200, 300, 400, 500, 600, 700, 800, 900, 2000, 3000, 4000, 5000, 6000, 7000, 8000, 9000, 20000, 30000, 40000, 50000, 60000, 70000, 80000, 90000], "labels": false, "title": null, "tickSize": 2.5, "tickWidth": 0.8, "tickColor": "#333", "domain": false, "grid": false}},
                      "y": {"field": "y", "type": "quantitative", "axis": {"orient": "left", "values": [4, 8, 12, 16, 24, 28, 32, 36, 44, 48, 52, 56, 64, 68, 72, 76, 84, 88, 92, 96, 104], "labels": false, "title": null, "tickSize": 2.5, "tickWidth": 0.8, "tickColor": "#333", "domain": false, "grid": false}}}},
        {"data": {"values": [{}]}, "mark": {"type": "rule", "color": "#000", "strokeWidth": 4, "clip": false},
         "encoding": {"x": {"datum": -1600, "type": "quantitative", "axis": null}, "x2": {"datum": 12850}, "y": {"datum": -18.4, "type": "quantitative", "axis": null}}},
        {"data": {"values": [{}]}, "mark": {"type": "point", "shape": "M-1,-1L1,0L-1,1Z", "size": 256, "filled": true, "color": "#000", "opacity": 1, "strokeWidth": 0, "clip": false},
         "encoding": {"x": {"datum": 17740, "type": "quantitative", "axis": null}, "y": {"datum": -18.4, "type": "quantitative", "axis": null}}}
      ]}
    ]}
  ],
  "config": {
    "font": "Liberation Sans",
    "view": {"stroke": "#8a8a8a", "strokeWidth": 1.2},
    "axis": {"labelFont": "Liberation Sans", "titleFont": "Liberation Sans"}
  }
}
